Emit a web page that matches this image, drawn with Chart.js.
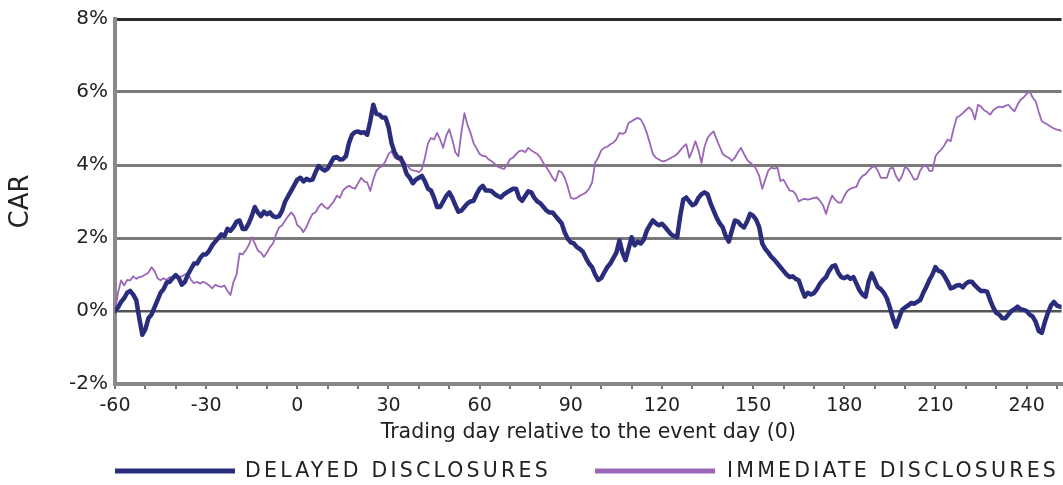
<!DOCTYPE html>
<html><head><meta charset="utf-8">
<script src="https://cdn.jsdelivr.net/npm/chart.js@4.4.1/dist/chart.umd.min.js"></script>
<style>html,body{margin:0;padding:0;background:#fff}#wrap{width:1063px;height:485px;position:relative}</style>
</head><body><div id="wrap"><canvas id="c" width="1063" height="485"></canvas></div>
<script>
const firstDay = -60;
const delayedCar = [
  0.0, 0.1, 0.25, 0.35, 0.5, 0.55, 0.45, 0.3, -0.2, -0.65,
  -0.5, -0.2, -0.1, 0.1, 0.3, 0.5, 0.6, 0.78, 0.8, 0.9,
  0.98, 0.9, 0.72, 0.8, 1.0, 1.15, 1.3, 1.3, 1.45, 1.55,
  1.55, 1.65, 1.8, 1.9, 2.0, 2.1, 2.05, 2.25, 2.2, 2.3,
  2.45, 2.48, 2.25, 2.25, 2.4, 2.6, 2.85, 2.7, 2.6,
  2.72, 2.65, 2.7, 2.6, 2.57, 2.6, 2.75, 3.0, 3.15, 3.3,
  3.45, 3.6, 3.65, 3.55, 3.62, 3.58, 3.6, 3.8, 3.97, 3.9,
  3.85, 3.9, 4.05, 4.2, 4.22, 4.15, 4.16, 4.24, 4.6, 4.83,
  4.9, 4.92, 4.88, 4.9, 4.83, 5.2, 5.65, 5.4, 5.38, 5.3,
  5.3, 5.05, 4.6, 4.35, 4.2, 4.2, 4.0, 3.75, 3.65, 3.5,
  3.6, 3.65, 3.7, 3.55, 3.35, 3.3, 3.1, 2.85, 2.85, 3.0,
  3.15, 3.25, 3.1, 2.9, 2.72, 2.75, 2.85, 2.95, 3.0, 3.02,
  3.2, 3.35, 3.43, 3.3, 3.3, 3.28, 3.2, 3.15, 3.11,
  3.2, 3.25, 3.3, 3.35, 3.35, 3.1, 3.02, 3.15, 3.28, 3.25,
  3.1, 3.0, 2.95, 2.85, 2.75, 2.7, 2.7, 2.6, 2.5, 2.4,
  2.15, 1.98, 1.88, 1.85, 1.75, 1.7, 1.62, 1.45, 1.3, 1.2,
  1.0, 0.85, 0.9, 1.05, 1.2, 1.3, 1.45, 1.6, 1.93, 1.6,
  1.39, 1.7, 2.02, 1.8, 1.9, 1.85, 1.95, 2.2, 2.35, 2.48,
  2.4, 2.35, 2.39, 2.3, 2.2, 2.1, 2.05, 2.02, 2.6, 3.05,
  3.11, 3.0, 2.9, 2.94, 3.1, 3.2, 3.25, 3.2, 2.95, 2.75,
  2.55, 2.4, 2.29, 2.05, 1.9, 2.2, 2.48, 2.45, 2.35,
  2.29, 2.45, 2.66, 2.61, 2.5, 2.3, 1.85, 1.7, 1.6, 1.48,
  1.4, 1.3, 1.2, 1.1, 1.0, 0.93, 0.95, 0.88, 0.84, 0.6,
  0.39, 0.5, 0.45, 0.49, 0.6, 0.75, 0.85, 0.93, 1.1, 1.22,
  1.25, 1.05, 0.93, 0.9, 0.95, 0.88, 0.93, 0.75, 0.57, 0.45,
  0.39, 0.8, 1.03, 0.85, 0.66, 0.6, 0.5, 0.35, 0.1, -0.2,
  -0.43, -0.2, 0.03, 0.1, 0.15, 0.22, 0.2, 0.25, 0.3, 0.5,
  0.66, 0.85, 1.0, 1.2, 1.1, 1.07, 0.95, 0.8, 0.62, 0.65,
  0.7, 0.71, 0.65, 0.75, 0.8, 0.8, 0.7, 0.62, 0.55,
  0.55, 0.53, 0.3, 0.1, -0.05, -0.1, -0.2, -0.2, -0.1, 0.0,
  0.05, 0.12, 0.05, 0.03, 0.0, -0.1, -0.15, -0.3, -0.55, -0.6,
  -0.3, -0.05, 0.15, 0.25, 0.15, 0.12, 0.1
];
const immediateCar = [
  0.0, 0.5, 0.84, 0.7, 0.85, 0.84, 0.95, 0.88, 0.93, 0.95,
  1.0, 1.05, 1.2, 1.1, 0.9, 0.84, 0.9, 0.85, 0.93, 0.9,
  0.95, 0.93, 0.95, 1.0, 1.03, 0.85, 0.76, 0.8, 0.75, 0.8,
  0.76, 0.7, 0.62, 0.72, 0.68, 0.66, 0.7, 0.55, 0.44, 0.8,
  1.0, 1.58, 1.55, 1.66, 1.8, 2.02, 1.85, 1.66, 1.6,
  1.48, 1.6, 1.75, 1.85, 2.1, 2.29, 2.35, 2.48, 2.6, 2.7,
  2.6, 2.35, 2.29, 2.16, 2.3, 2.5, 2.66, 2.7, 2.85, 2.94,
  2.85, 2.8, 2.9, 3.0, 3.16, 3.1, 3.3, 3.38, 3.43, 3.38,
  3.35, 3.5, 3.65, 3.55, 3.52, 3.29, 3.6, 3.84, 3.93, 3.97,
  4.1, 4.3, 4.38, 4.2, 4.16, 4.1, 4.11, 4.0, 3.9, 3.85,
  3.84, 3.8, 3.89, 4.2, 4.6, 4.74, 4.7, 4.88, 4.7, 4.47,
  4.8, 4.98, 4.7, 4.35, 4.24, 4.9, 5.42, 5.1, 4.88, 4.6,
  4.45, 4.3, 4.25, 4.24, 4.15, 4.1, 4.03, 3.95, 3.92,
  3.89, 4.0, 4.16, 4.2, 4.3, 4.38, 4.4, 4.35, 4.47, 4.4,
  4.35, 4.3, 4.2, 4.05, 3.93, 3.8, 3.65, 3.56, 3.84, 3.8,
  3.65, 3.4, 3.1, 3.07, 3.1, 3.16, 3.2, 3.25, 3.35, 3.52,
  4.06, 4.2, 4.4, 4.47, 4.5, 4.57, 4.61, 4.7, 4.88, 4.85,
  4.9, 5.15, 5.2, 5.25, 5.29, 5.25, 5.1, 4.88, 4.6, 4.3,
  4.2, 4.15, 4.1, 4.11, 4.15, 4.2, 4.24, 4.3, 4.4, 4.5,
  4.57, 4.2, 4.4, 4.65, 4.4, 4.06, 4.5, 4.74, 4.85, 4.92,
  4.7, 4.5, 4.3, 4.24, 4.2, 4.11, 4.2, 4.35, 4.47,
  4.3, 4.15, 4.06, 4.0, 3.89, 3.7, 3.35, 3.6, 3.85, 3.93,
  3.9, 3.93, 3.56, 3.6, 3.45, 3.3, 3.29, 3.2, 3.0, 3.05,
  3.07, 3.05, 3.07, 3.1, 3.11, 3.02, 2.9, 2.66, 2.95, 3.16,
  3.05, 2.97, 2.97, 3.15, 3.29, 3.35, 3.38, 3.4, 3.6, 3.7,
  3.75, 3.85, 3.93, 3.97, 3.85, 3.65, 3.65, 3.65, 3.9, 3.93,
  3.7, 3.56, 3.7, 3.95, 3.89, 3.75, 3.6, 3.62, 3.85, 3.97,
  4.0, 3.84, 3.84, 4.24, 4.35, 4.43, 4.55, 4.7, 4.65, 5.0,
  5.3, 5.35, 5.42, 5.5, 5.58, 5.5, 5.25, 5.65, 5.6,
  5.5, 5.45, 5.38, 5.5, 5.56, 5.6, 5.58, 5.62, 5.65, 5.55,
  5.47, 5.65, 5.79, 5.85, 5.95, 6.01, 5.85, 5.74, 5.45, 5.2,
  5.15, 5.1, 5.05, 5.0, 4.97, 4.95, 4.92
];
const seriesNames = ['DELAYED DISCLOSURES', 'IMMEDIATE DISCLOSURES'];
const xLabelDays = [-60, -30, 0, 30, 60, 90, 120, 150, 180, 210, 240];
const yTickValues = [-2, 0, 2, 4, 6, 8];
const xTitle = 'Trading day relative to the event day (0)';
const yTitle = 'CAR';

const days = delayedCar.map((_, i) => firstDay + i);
const NAVY = '#2a2c7c';
const PURPLE = '#9b66b8';
const FONT = "'DejaVu Sans', sans-serif";

const legendPlugin = {
  id: 'customLegend',
  afterDraw(chart) {
    const ctx = chart.ctx;
    const pos = [{x0: 115, x1: 235, tx: 245}, {x0: 595, x1: 715, tx: 727}];
    const y = 471;
    ctx.save();
    chart.data.datasets.forEach((ds, i) => {
      const p = pos[i];
      ctx.strokeStyle = ds.legendColor;
      ctx.lineWidth = 5;
      ctx.beginPath();
      ctx.moveTo(p.x0, y);
      ctx.lineTo(p.x1, y);
      ctx.stroke();
      ctx.fillStyle = '#222';
      ctx.font = "20.5px 'DejaVu Sans', sans-serif";
      try { ctx.letterSpacing = '3.2px'; } catch (e) {}
      ctx.textAlign = 'left';
      ctx.textBaseline = 'middle';
      ctx.fillText(ds.label, p.tx, y + 0.5);
    });
    ctx.restore();
  }
};

new Chart(document.getElementById('c'), {
  type: 'line',
  data: {
    datasets: [
      {
        label: seriesNames[0],
        data: days.map((d, i) => ({x: d, y: delayedCar[i]})),
        borderColor: NAVY,
        legendColor: NAVY,
        borderWidth: 4.5,
        pointRadius: 0,
        tension: 0,
        borderJoinStyle: 'round',
        borderCapStyle: 'round'
      },
      {
        label: seriesNames[1],
        data: days.map((d, i) => ({x: d, y: immediateCar[i]})),
        borderColor: PURPLE,
        legendColor: PURPLE,
        borderWidth: 1.8,
        pointRadius: 0,
        tension: 0,
        borderJoinStyle: 'round'
      }
    ]
  },
  options: {
    responsive: false,
    animation: false,
    devicePixelRatio: 1,
    layout: {padding: {top: 16, right: 0, bottom: 0, left: 0}},
    plugins: {legend: {display: false}, tooltip: {enabled: false}},
    scales: {
      x: {
        type: 'linear',
        min: -60,
        max: 251.5,
        afterFit: s => { s.height = 101; },
        border: {display: true, color: '#888', width: 4},
        grid: {drawOnChartArea: false, drawTicks: true, tickLength: 5, color: '#777', lineWidth: 2},
        ticks: {
          stepSize: 10,
          autoSkip: false,
          includeBounds: false,
          maxRotation: 0,
          padding: 6,
          color: '#222',
          font: {family: FONT, size: 19},
          callback: v => xLabelDays.includes(v) ? String(v) : ''
        },
        title: {display: true, text: xTitle, color: '#222', font: {family: FONT, size: 20.5}, padding: {top: 0, bottom: 40}}
      },
      y: {
        min: -2,
        max: 8,
        afterFit: s => { s.width = 115; },
        afterBuildTicks: s => { s.ticks = yTickValues.map(v => ({value: v})); },
        border: {display: true, color: '#8a8a8a', width: 4},
        grid: {
          drawTicks: false,
          color: c => c.tick.value === 8 ? '#2a2a2a' : c.tick.value === 0 ? '#555' : c.tick.value === -2 ? '#888' : '#7a7a7a',
          lineWidth: c => c.tick.value === 0 ? 2.5 : 3
        },
        ticks: {
          padding: 7,
          color: '#222',
          font: {family: FONT, size: 20},
          callback: v => v + '%'
        },
        title: {display: true, text: yTitle, color: '#222', font: {family: FONT, size: 26}, padding: {top: 6, bottom: 0}}
      }
    }
  },
  plugins: [legendPlugin]
});
</script>
</body></html>
